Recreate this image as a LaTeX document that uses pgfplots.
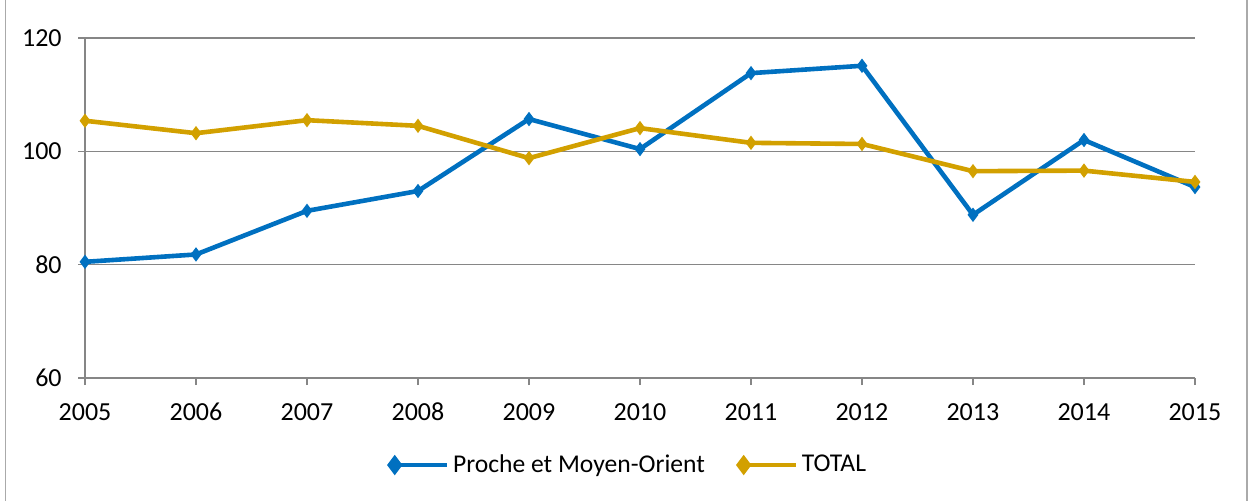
\documentclass[border=0pt]{standalone}
\usepackage{fontspec}
\setmainfont{Carlito}
\usepackage{pgfplots}
\pgfplotsset{compat=1.18}
\definecolor{pmoblue}{RGB}{0,112,192}
\definecolor{totgold}{RGB}{210,160,0}
\definecolor{gridgray}{RGB}{134,134,134}
\begin{document}
\begin{tikzpicture}[x=1pt,y=1pt]
\useasboundingbox (0,0) rectangle (624.5,250);
\draw[gridgray!70,line width=0.6pt] (2.8,-5) -- (2.8,255);
\draw[gridgray!70,line width=0.6pt] (623.5,-5) -- (623.5,255);
\begin{axis}[
  at={(42.5pt,61pt)},anchor=south west,
  scale only axis,width=555pt,height=170pt,
  xmin=2005,xmax=2015,ymin=60,ymax=120,
  xtick={2005,...,2015},ytick={60,80,100,120},
  /pgf/number format/1000 sep={},
  /pgf/number format/assume math mode=true,
  ticklabel style={font=\fontsize{13}{15}\selectfont,inner sep=0pt},
  xticklabel style={anchor=center,yshift=-13.5pt},
  yticklabel style={anchor=east,xshift=-8pt},
  axis lines*=left,
  axis line style={gridgray,line width=0.8pt},
  ymajorgrids,grid style={gridgray,line width=0.8pt},
  tick align=outside,major tick length=3.5pt,
  tick style={gridgray,line width=0.8pt},
  xtick pos=bottom,ytick pos=left,
  clip=false,
  legend style={draw=none,fill=none,at={(0.491,-0.256)},anchor=center,
    legend columns=-1,font=\fontsize{12.8}{15}\selectfont,
    nodes={inner sep=2pt},
    /tikz/every even column/.append style={column sep=15pt}},
  legend image code/.code={
    \draw[#1,mark=none] (0pt,0pt) -- (26pt,0pt);
    \pgfuseplotmark{diamond*}},
]
\addplot[pmoblue,line width=2.3pt,mark=diamond*,mark size=3.2pt,mark options={solid,line width=0.5pt}] coordinates {
(2005,80.5) (2006,81.8) (2007,89.5) (2008,93.0) (2009,105.7) (2010,100.4)
(2011,113.8) (2012,115.1) (2013,88.8) (2014,102.0) (2015,93.7)};
\addlegendentry{Proche et Moyen-Orient}
\addplot[totgold,line width=2.3pt,mark=diamond*,mark size=3.2pt,mark options={solid,line width=0.5pt}] coordinates {
(2005,105.4) (2006,103.2) (2007,105.5) (2008,104.5) (2009,98.8) (2010,104.1)
(2011,101.5) (2012,101.3) (2013,96.5) (2014,96.6) (2015,94.6)};
\addlegendentry{TOTAL}
\end{axis}
\end{tikzpicture}
\end{document}
